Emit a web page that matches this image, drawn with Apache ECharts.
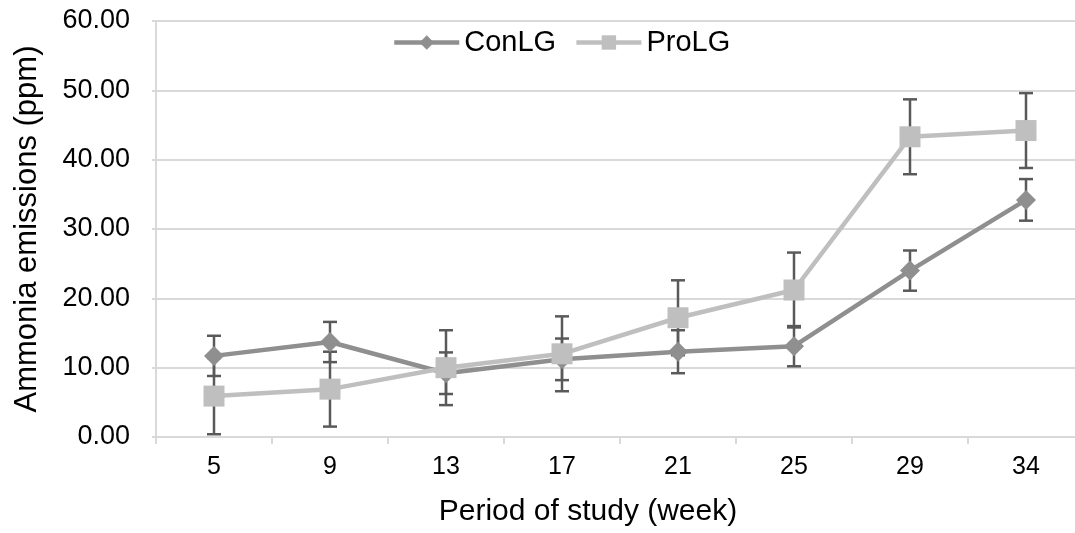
<!DOCTYPE html>
<html>
<head>
<meta charset="utf-8">
<script src="https://cdn.jsdelivr.net/npm/echarts@6/dist/echarts.min.js"></script>
<style>html,body{margin:0;padding:0;background:#fff}#c{width:1075px;height:533px}</style>
</head>
<body>
<div id="c"></div>
<script>
const weeks = ['5','9','13','17','21','25','29','34'];
const conLG = [11.7, 13.7, 9.2, 11.2, 12.3, 13.1, 24.0, 34.2];
const conErr = [2.9, 2.9, 3.0, 3.0, 3.1, 2.9, 2.9, 3.0];
const proLG = [5.9, 6.9, 10.0, 12.0, 17.2, 21.2, 43.3, 44.2];
const proErr = [5.5, 5.4, 5.4, 5.4, 5.4, 5.4, 5.4, 5.4];
const yTicks = [0, 10, 20, 30, 40, 50, 60];

function errData(vals, errs) {
  return vals.map((v, i) => [i, v - errs[i], v + errs[i]]);
}
function errRender(params, api) {
  const x = api.value(0);
  const lo = api.coord([x, api.value(1)]);
  const hi = api.coord([x, api.value(2)]);
  const cap = 7;
  const style = { stroke: '#595959', lineWidth: 2.5, fill: null };
  return {
    type: 'group',
    children: [
      { type: 'line', shape: { x1: lo[0], y1: lo[1], x2: hi[0], y2: hi[1] }, style },
      { type: 'line', shape: { x1: hi[0] - cap, y1: hi[1], x2: hi[0] + cap, y2: hi[1] }, style },
      { type: 'line', shape: { x1: lo[0] - cap, y1: lo[1], x2: lo[0] + cap, y2: lo[1] }, style }
    ]
  };
}

const chart = echarts.init(document.getElementById('c'), null, { renderer: 'canvas' });
const font = 'Liberation Sans, Arial, sans-serif';
chart.setOption({
  animation: false,
  backgroundColor: '#fff',
  textStyle: { fontFamily: font },
  legend: {
    top: 28,
    left: 392,
    padding: 0,
    itemGap: 18,
    itemWidth: 65,
    itemHeight: 18,
    lineStyle: { width: 4.5 },
    textStyle: { fontSize: 29, color: '#000', fontFamily: font, padding: [0, 0, 0, 0] },
    data: ['ConLG', 'ProLG']
  },
  grid: { left: 156, top: 21, width: 928, height: 416, containLabel: false, outerBoundsMode: 'none' },
  xAxis: {
    type: 'category',
    data: weeks,
    boundaryGap: true,
    name: 'Period of study (week)',
    nameLocation: 'middle',
    nameGap: 60,
    nameTextStyle: { fontSize: 30, color: '#000', fontFamily: font, padding: [0, 64, 0, 0] },
    axisLine: { lineStyle: { color: '#d9d9d9', width: 2 } },
    axisTick: { show: true, length: 7, lineStyle: { color: '#d9d9d9', width: 2 } },
    axisLabel: { fontSize: 25, color: '#000', margin: 18, fontFamily: font },
    splitLine: { show: false }
  },
  yAxis: {
    type: 'value',
    min: yTicks[0],
    max: yTicks[yTicks.length - 1],
    interval: 10,
    name: 'Ammonia emissions (ppm)',
    nameLocation: 'middle',
    nameGap: 113,
    nameTextStyle: { fontSize: 31, color: '#000', fontFamily: font },
    axisLine: { show: true, lineStyle: { color: '#d9d9d9', width: 2 } },
    axisTick: { show: true, length: 4, lineStyle: { color: '#d9d9d9', width: 2 } },
    axisLabel: { fontSize: 27, color: '#000', margin: 26, fontFamily: font, formatter: v => v.toFixed(2) },
    splitLine: { show: true, lineStyle: { color: '#d9d9d9', width: 2 } }
  },
  series: [
    {
      name: 'ConLG err', type: 'custom', z: 1, silent: true,
      renderItem: errRender, data: errData(conLG, conErr), encode: { x: 0, y: [1, 2] }
    },
    {
      name: 'ProLG err', type: 'custom', z: 1, silent: true,
      renderItem: errRender, data: errData(proLG, proErr), encode: { x: 0, y: [1, 2] }
    },
    {
      name: 'ConLG', type: 'line', z: 3, data: conLG,
      symbol: 'diamond', symbolSize: 20,
      lineStyle: { color: '#8f8f8f', width: 4.5 },
      itemStyle: { color: '#8f8f8f' }
    },
    {
      name: 'ProLG', type: 'line', z: 4, data: proLG,
      symbol: 'rect', symbolSize: 21,
      lineStyle: { color: '#bfbfbf', width: 4.5 },
      itemStyle: { color: '#bfbfbf' }
    }
  ]
});
</script>
</body>
</html>
